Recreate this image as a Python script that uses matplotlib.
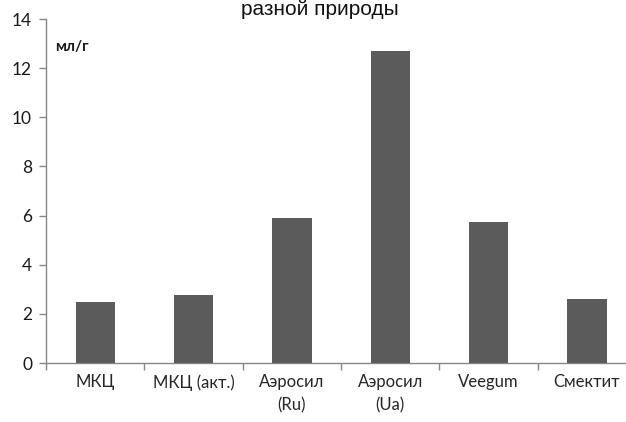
import matplotlib
matplotlib.use("Agg")
import matplotlib.pyplot as plt
import numpy as np

categories = ["МКЦ", "МКЦ (акт.)", "Аэросил\n(Ru)", "Аэросил\n(Ua)", "Veegum", "Смектит"]
values = [2.5, 2.75, 5.9, 12.7, 5.75, 2.6]
yticks = [0, 2, 4, 6, 8, 10, 12, 14]

W, H = 626, 422
fig = plt.figure(figsize=(W / 100, H / 100), dpi=100)
ax = fig.add_axes([46 / W, 1 - 363 / H, (636 - 46) / W, (363 - 19) / H])

x = np.arange(len(categories))
ax.bar(x, values, width=0.4, color="#5b5b5b", zorder=3)

ax.set_xlim(-0.5, len(categories) - 0.5)
ax.set_ylim(0, 14)
ax.set_yticks(yticks)
ax.set_yticklabels([str(v) for v in yticks], fontfamily="Lato", fontsize=12.5, color="#1a1a1a")
ax.set_xticks(x)
ax.set_xticklabels(categories, fontfamily="Lato", fontsize=12, color="#262626", linespacing=1.55)
ax.set_xticks(np.arange(len(categories) + 1) - 0.5, minor=True)
ax.tick_params(axis="x", which="major", length=0, pad=8)
ax.tick_params(axis="x", which="minor", length=5, color="#868686", width=1)
ax.tick_params(axis="y", length=5, color="#868686", width=1, pad=5)

for s in ["top", "right"]:
    ax.spines[s].set_visible(False)
for s in ["left", "bottom"]:
    ax.spines[s].set_color("#868686")
    ax.spines[s].set_linewidth(1)

fig.text(55 / W, 1 - 47 / H, "мл/г", fontfamily="Lato", fontweight="bold", fontsize=11,
         va="center", ha="left", color="#1a1a1a")
fig.text(320 / W, 1 - 15 / H, "разной природы", fontfamily="Liberation Sans", fontsize=15,
         ha="center", va="baseline", color="#111111")

fig.savefig("out.png", dpi=100)
